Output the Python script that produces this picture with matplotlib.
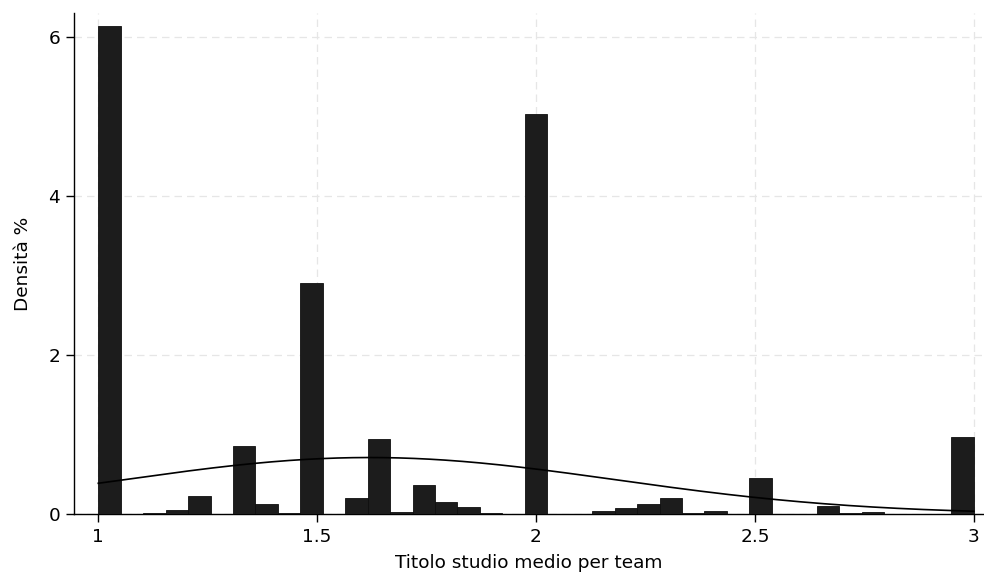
import numpy as np
import matplotlib
matplotlib.use("Agg")
import matplotlib.pyplot as plt

# Histogram of average education level per team (density, 39 bins over [1, 3])
bin_range = (1.0, 3.0)
densities = [
    6.14, 0.0, 0.01, 0.055, 0.225, 0.0, 0.86, 0.12, 0.015, 2.91,
    0.0, 0.205, 0.94, 0.03, 0.37, 0.155, 0.088, 0.012, 0.0, 5.03,
    0.0, 0.0, 0.032, 0.075, 0.125, 0.195, 0.008, 0.032, 0.0, 0.45,
    0.0, 0.0, 0.105, 0.008, 0.02, 0.0, 0.0, 0.0, 0.965,
]
# Normal density overlay parameters
normal_mean = 1.62
normal_sd = 0.562

x_ticks = [1, 1.5, 2, 2.5, 3]
x_tick_labels = ["1", "1.5", "2", "2.5", "3"]
y_ticks = [0, 2, 4, 6]
y_tick_labels = ["0", "2", "4", "6"]

plt.rcParams["font.family"] = ["DejaVu Sans"]
FS = 13.3

fig = plt.figure(figsize=(9.84, 5.77), dpi=100)
ax = fig.add_axes([74 / 984, 63 / 577, 910 / 984, 501 / 577])

n_bins = len(densities)
edges = np.linspace(bin_range[0], bin_range[1], n_bins + 1)
width = edges[1] - edges[0]
heights = np.array(densities)
mask = heights > 0
ax.bar(edges[:-1][mask], heights[mask], width=width, align="edge",
       color="#1c1c1c", edgecolor="#0f0f0f", linewidth=0.6, zorder=3)

xs = np.linspace(bin_range[0], bin_range[1], 400)
pdf = np.exp(-0.5 * ((xs - normal_mean) / normal_sd) ** 2) / (normal_sd * np.sqrt(2 * np.pi))
ax.plot(xs, pdf, color="black", linewidth=1.2, zorder=4)

ax.set_xlim(0.9445, 3.0233)
ax.set_ylim(0, 6.298)

ax.set_xticks(x_ticks)
ax.set_xticklabels(x_tick_labels)
ax.set_yticks(y_ticks)
ax.set_yticklabels(y_tick_labels)

ax.grid(True, color="#e6e6e6", linestyle=(0, (6, 4)), linewidth=0.9, zorder=0)
for side in ("top", "right"):
    ax.spines[side].set_visible(False)
for side in ("left", "bottom"):
    ax.spines[side].set_linewidth(1.0)
    ax.spines[side].set_color("black")

ax.tick_params(axis="both", direction="out", length=6, width=1.0,
               labelsize=FS, colors="black")
ax.tick_params(axis="y", pad=4)
ax.tick_params(axis="x", pad=4)

ax.set_xlabel("Titolo studio medio per team", fontsize=FS, labelpad=6)
ax.set_ylabel("Densità %", fontsize=FS, labelpad=12)

fig.savefig("out.png", dpi=100, facecolor="white")
